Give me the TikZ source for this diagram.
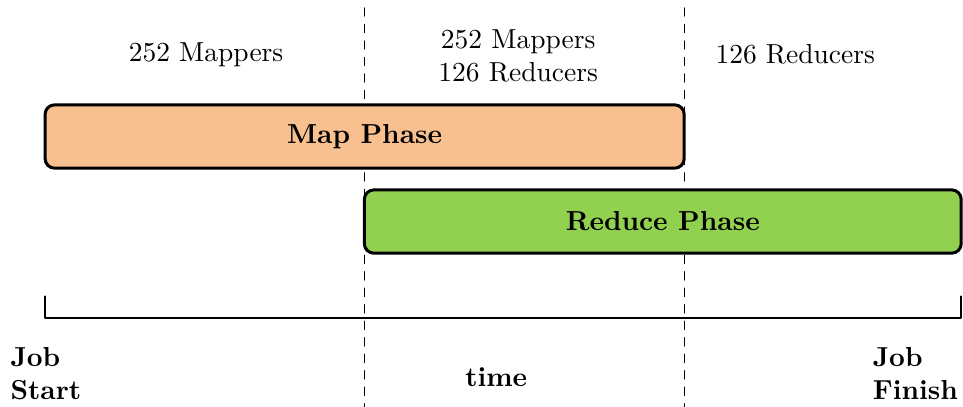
\documentclass[tikz,border=0pt]{standalone}
\usepackage{tikz}
\usetikzlibrary{positioning}

\definecolor{mapfill}{HTML}{F9C08F}
\definecolor{redfill}{HTML}{92D050}

\begin{document}
\begin{tikzpicture}[
    font=\normalsize,
    line cap=round,
    line join=round,
    phase/.style={
        draw,
        line width=1.1pt,
        rounded corners=3.5pt,
        minimum height=0.81cm,
        inner sep=0pt,
        font=\bfseries
    },
    count/.style={
        align=center,
        inner sep=0pt
    },
    mark label/.style={
        align=left,
        inner sep=0pt,
        font=\bfseries
    }
]

\useasboundingbox (0,0) rectangle (12.31,5.2);

% Trennlinien
\coordinate (split1top) at (4.655,5.10);
\coordinate (split1bot) at (4.655,0);
\coordinate (split2top) at (8.747,5.10);
\coordinate (split2bot) at (8.747,0);

\draw[dashed,thin]
    (split1top) -- (split1bot);
\draw[dashed,thin]
    (split2top) -- (split2bot);

% Map Phase
\node[
    phase,
    fill=mapfill,
    minimum width=8.17cm
] (map) at (4.661,3.455)
    {Map Phase};

% Reduce Phase
\node[
    phase,
    fill=redfill,
    minimum width=7.63cm
] (reduce) at (8.472,2.368)
    {Reduce Phase};

% Anzahl der Tasks
\node[count] (cnt1) at (2.634,4.50)
    {252 Mappers};

\node[count] (cnt2) at (6.624,4.49)
    {252 Mappers\\126 Reducers};

\node[count] (cnt3) at (10.166,4.50)
    {126 Reducers};

% Zeitachse
\coordinate (axstart) at (0.575,1.138);
\coordinate (axend) at (12.289,1.138);
\coordinate (tickstart) at (0.575,1.41);
\coordinate (tickend) at (12.289,1.41);

\draw[line width=0.8pt]
    (tickstart) -- (axstart) -- (axend) -- (tickend);

\node[mark label,anchor=west] (jobstart) at (0.128,0.42)
    {Job\\Start};

\node[mark label] (time) at (6.343,0.38)
    {time};

\node[mark label,anchor=west] (jobfinish) at (11.151,0.42)
    {Job\\Finish};

\end{tikzpicture}
\end{document}
